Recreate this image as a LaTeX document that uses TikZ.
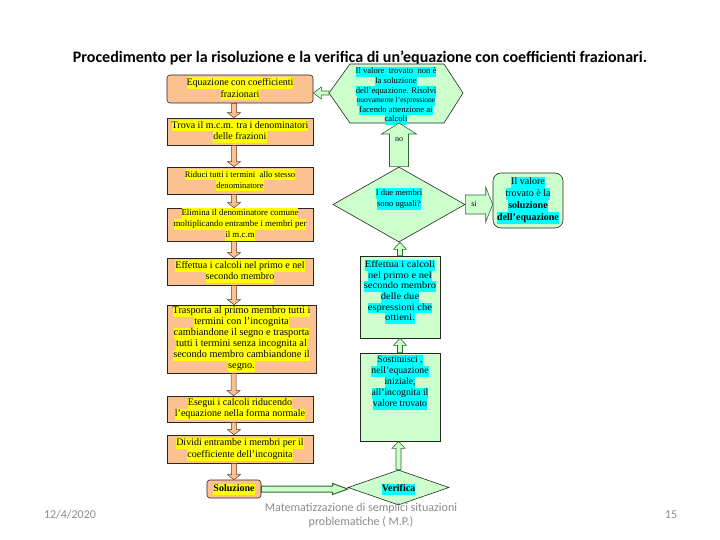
\documentclass[tikz,border=0pt]{standalone}
\usepackage{fontspec}
\setmainfont{Liberation Serif}
\newfontfamily\calib{Carlito}
\newfontfamily\widefont[FakeStretch=1.1]{Liberation Serif}
\usetikzlibrary{shapes.geometric,calc}
\definecolor{orfill}{HTML}{FBC191}
\definecolor{orline}{HTML}{5A3A1A}
\definecolor{grfill}{HTML}{CCFFCC}
\definecolor{grline}{HTML}{2E6B2E}
\definecolor{hlyel}{HTML}{FFFF00}
\definecolor{hlcyan}{HTML}{00FFFF}
\definecolor{footgray}{HTML}{8C8C8C}
\setlength{\fboxsep}{0pt}
\newcommand\hy[1]{\colorbox{hlyel}{\strut #1}}
\newcommand\hc[1]{\colorbox{hlcyan}{\strut #1}}
\newcommand\VArrow[6]{%
  \draw[#1] let \p1=(#2), \p2=(#3), \n1={sign(\y2-\y1)} in
    ({\x1-#4pt},\y1) -- ({\x1-#4pt},{\y2-(\n1)*(#6pt)}) -- ({\x1-#5pt},{\y2-(\n1)*(#6pt)})
    -- (\x1,\y2) -- ({\x1+#5pt},{\y2-(\n1)*(#6pt)}) -- ({\x1+#4pt},{\y2-(\n1)*(#6pt)})
    -- ({\x1+#4pt},\y1) -- cycle;}
\newcommand\HArrow[6]{%
  \draw[#1] let \p1=(#2), \p2=(#3), \n1={sign(\x2-\x1)} in
    (\x1,{\y1-#4pt}) -- ({\x2-(\n1)*(#6pt)},{\y1-#4pt}) -- ({\x2-(\n1)*(#6pt)},{\y1-#5pt})
    -- (\x2,\y1) -- ({\x2-(\n1)*(#6pt)},{\y1+#5pt}) -- ({\x2-(\n1)*(#6pt)},{\y1+#4pt})
    -- (\x1,{\y1+#4pt}) -- cycle;}
\begin{document}
\begin{tikzpicture}[x=1pt,y=-1pt,
  obox/.style={draw=black!85, fill=orfill, line width=0.6pt, minimum width=146,
    align=center, inner sep=0pt, font=\fontsize{10}{11.5}\selectfont},
  gbox/.style={draw=black!85, fill=grfill, line width=0.6pt, align=center, inner sep=0pt},
  gshape/.style={draw=black!85, fill=grfill, line width=0.6pt},
  gtext/.style={align=center, inner sep=0pt, font=\fontsize{10}{11}\selectfont},
  oarrow/.style={draw=orline, fill=orfill, line width=0.5pt},
  garrow/.style={draw=grline, fill=grfill, line width=0.6pt},
  garrowb/.style={draw=grline, fill=grfill, line width=1pt},
  foot/.style={text=footgray, font=\calib\fontsize{12}{14}\selectfont, inner sep=0pt}]
\useasboundingbox (0,0) rectangle (720,540);
\fill[white] (0,0) rectangle (720,540);

% title
\node[font=\calib\bfseries\fontsize{16}{18}\selectfont, inner sep=0pt] (title) at (360,58)
  {Procedimento per la risoluzione e la verifica di un’equazione con coefficienti frazionari.};

% left column (orange)
\node[obox, rounded corners=3pt, minimum height=28] (b1) at (240,89)
  {\hy{Equazione con coefficienti}\\\hy{frazionari}};
\node[obox, minimum height=27] (b2) at (240,131.5)
  {\hy{Trova il m.c.m. tra i denominatori}\\\hy{delle frazioni}};
\node[obox, minimum height=27, font=\fontsize{8.6}{11}\selectfont] (b3) at (240,180.5)
  {\hy{Riduci tutti i termini\ \ allo stesso}\\\hy{denominatore}};
\node[obox, minimum height=33, font=\fontsize{8.9}{11}\selectfont] (b4) at (240,224.5)
  {\hy{Elimina il denominatore comune}\\\hy{moltiplicando entrambe i membri per}\\\hy{il m.c.m}};
\node[obox, minimum height=27] (b5) at (240,271.5)
  {\hy{Effettua i calcoli nel primo e nel}\\\hy{secondo membro}};
\node[obox, minimum width=149, minimum height=68, font=\fontsize{10.3}{11}\selectfont] (b6) at (241.5,339)
  {\hy{Trasporta al primo membro tutti i}\\\hy{termini con l’incognita}\\\hy{cambiandone il segno e trasporta}\\
   \hy{tutti i termini senza incognita al}\\\hy{secondo membro cambiandone il}\\\hy{segno.}};
\node[obox, minimum height=26, font=\fontsize{10}{11}\selectfont] (b7) at (240,409)
  {\hy{Esegui i calcoli riducendo}\\\hy{l’equazione nella forma normale}};
\node[obox, minimum height=28] (b8) at (240,449)
  {\hy{Dividi entrambe i membri per il}\\\hy{coefficiente dell’incognita}};
\node[obox, rounded corners=3pt, minimum width=54, minimum height=18, font=\bfseries\fontsize{10}{11}\selectfont] (sol) at (234,489)
  {\hy{Soluzione}};

\VArrow{oarrow}{$(b1.south)+(-6,0)$}{b2.north}{2.5}{6.5}{5}
\VArrow{oarrow}{$(b2.south)+(-6,0)$}{b3.north}{2.5}{6.5}{5}
\VArrow{oarrow}{$(b3.south)+(-6,0)$}{b4.north}{2.5}{6.5}{5}
\VArrow{oarrow}{$(b4.south)+(-6,0)$}{b5.north}{2.5}{6.5}{5}
\VArrow{oarrow}{$(b5.south)+(-6,0)$}{b6.north}{2.5}{6.5}{5}
\VArrow{oarrow}{$(b6.south)+(-8,0)$}{b7.north}{2.5}{6.5}{5}
\VArrow{oarrow}{$(b7.south)+(-6,0)$}{b8.north}{2.5}{6.5}{5}
\VArrow{oarrow}{$(b8.south)+(-6,0)$}{sol.north}{2.5}{6.5}{5}

% right column (green)
\draw[gshape] (329,93) -- (350,64) -- (444,64) -- (463,93) -- (444,123) -- (350,123) -- cycle;
\coordinate (hexL) at (329,93);
\coordinate (hexB) at (399,123);
\node[gtext, font=\fontsize{8.6}{9.6}\selectfont] (hex) at (396,96)
  {\hc{Il valore\ \ trovato\ \ non è}\\\hc{la soluzione}\\\hc{dell’equazione. Risolvi}\\
   \hc{\fontsize{7.6}{9.6}\selectfont nuovamente l’espressione}\\\hc{facendo attenzione ai}\\\hc{calcoli}};

\node[diamond, gshape, inner sep=0pt, minimum width=132, minimum height=75] (d1) at (399,204.5) {};
\node[gtext, font=\fontsize{8.6}{11}\selectfont] (d1t) at (399,199) {\hc{I due membri}\\\hc{sono uguali?}};

\node[gbox, rounded corners=8pt, minimum width=70, minimum height=55] (res) at (528,200.5)
  {\fontsize{10}{11}\selectfont\hc{Il valore}\\\hc{trovato è la}\\\hc{\bfseries soluzione}\\\hc{\bfseries dell’equazione}};

\node[gbox, minimum width=80, minimum height=82] (e) at (400,297) {};
\node[gtext, font=\widefont\fontsize{9.6}{10.6}\selectfont] (et) at (400,292)
  {\hc{Effettua i calcoli}\\\hc{nel primo e nel}\\\hc{secondo membro}\\\hc{delle due}\\\hc{espressioni che}\\\hc{ottieni.}};

\node[gbox, minimum width=80, minimum height=88] (s) at (400,397) {};
\node[gtext, font=\fontsize{9.7}{11}\selectfont] (st) at (400,382)
  {\hc{Sostituisci ,}\\\hc{nell’equazione}\\\hc{iniziale,}\\\hc{all’incognita il}\\\hc{valore trovato}};

\node[diamond, gshape, inner sep=0pt, minimum width=101, minimum height=35] (v) at (398.5,487.5) {};
\node[gtext, font=\bfseries\fontsize{10}{11}\selectfont] (vt) at (398.5,489.5) {\hc{Verifica}};

% green connectors
\VArrow{garrow}{d1.north}{hexB}{9.5}{17.5}{11}
\node[font=\fontsize{8}{9}\selectfont, inner sep=0pt] (nolab) at (399,140) {no};
\HArrow{garrow}{hexL}{$(b1.east)$}{2}{6}{8}
\HArrow{garrow}{d1.east}{res.west}{9.5}{17.5}{7}
\node[font=\fontsize{8}{9}\selectfont, inner sep=0pt] (silab) at (474,204) {si};
\VArrow{garrow}{e.north}{d1.south}{2.5}{6.5}{7}
\VArrow{garrow}{s.north}{e.south}{2.5}{6.5}{7}
\VArrow{garrow}{v.north}{s.south}{2.5}{6.5}{7}
\HArrow{garrowb}{sol.east}{v.west}{3}{5.5}{15}

% footer
\node[foot] (date) at (70,515) {12/4/2020};
\node[foot, align=center, font=\calib\fontsize{12}{14}\selectfont] (ftxt) at (361,515)
  {Matematizzazione di semplici situazioni\\problematiche ( M.P.)};
\node[foot] (page) at (671,515) {15};
\end{tikzpicture}
\end{document}
